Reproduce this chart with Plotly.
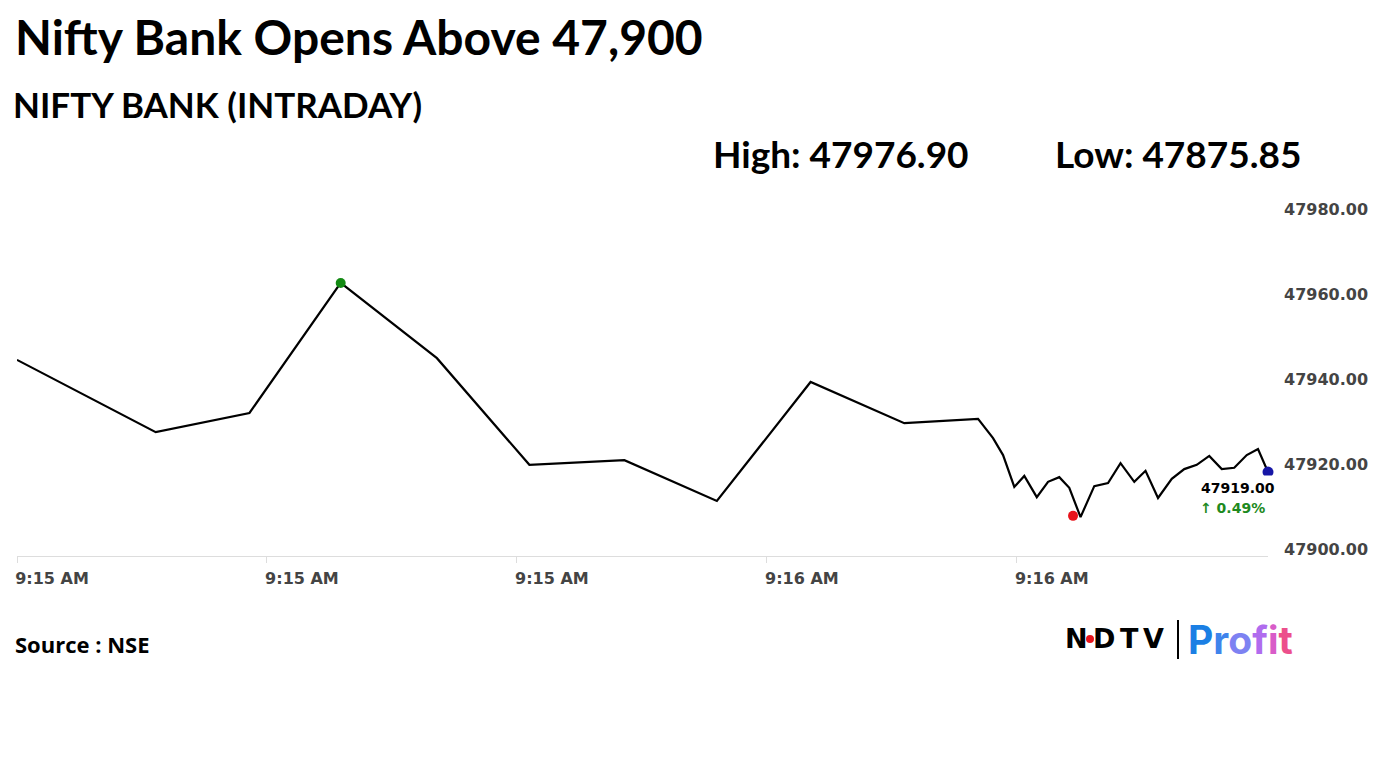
import plotly.graph_objects as go

# ---------------- data (seconds after 9:15:05 AM, price) ----------------
time_s = [0, 11.1, 18.6, 25.9, 33.6, 41.0, 48.6, 56.0, 63.5, 71.0, 76.9, 78.1, 78.9,
          79.8, 80.6, 81.6, 82.5, 83.4, 84.2, 85.1, 86.2, 87.3, 88.3, 89.4, 90.3,
          91.3, 92.4, 93.4, 94.4, 95.4, 96.4, 97.4, 98.4, 99.3, 100.1]
price = [47944.5, 47927.5, 47932.0, 47962.6, 47944.9, 47919.8, 47920.9, 47911.3,
         47939.3, 47929.6, 47930.6, 47926.1, 47922.1, 47914.6, 47917.2, 47912.2,
         47915.8, 47916.9, 47914.4, 47907.5, 47914.8, 47915.5, 47920.2, 47915.8,
         47918.4, 47912.0, 47916.5, 47918.8, 47919.8, 47921.9, 47918.8, 47919.1,
         47922.1, 47923.5, 47918.1]

high_point = (25.9, 47962.6)
low_point = (84.5, 47907.8)
last_point = (100.1, 47918.1)

x_tick_vals = [0, 20, 40, 60, 80]
x_tick_text = ["9:15 AM", "9:15 AM", "9:15 AM", "9:16 AM", "9:16 AM"]
y_tick_vals = [47900, 47920, 47940, 47960, 47980]
y_tick_text = ["47900.00", "47920.00", "47940.00", "47960.00", "47980.00"]

title_text = "Nifty Bank Opens Above 47,900"
subtitle_text = "NIFTY BANK (INTRADAY)"
high_text = "High: 47976.90"
low_text = "Low: 47875.85"
last_text = "47919.00"
change_text = "\u2191 0.49%"
source_text = "Source : NSE"

# ---------------- layout geometry ----------------
W, H = 1382, 777
L, R, T, B = 17, 114, 207, 221
PW, PH = W - L - R, H - T - B


def px(p):
    return (p - L) / PW


def py(p):
    return (H - B - p) / PH


fig = go.Figure()
fig.add_trace(go.Scatter(x=time_s, y=price, mode="lines",
                         line=dict(color="black", width=2.2), hoverinfo="skip",
                         showlegend=False))
fig.add_trace(go.Scatter(x=[high_point[0]], y=[high_point[1]], mode="markers",
                         marker=dict(color="#138a13", size=10), showlegend=False,
                         cliponaxis=False))
fig.add_trace(go.Scatter(x=[low_point[0]], y=[low_point[1]], mode="markers",
                         marker=dict(color="#e8131b", size=10), showlegend=False,
                         cliponaxis=False))
fig.add_trace(go.Scatter(x=[last_point[0]], y=[last_point[1]], mode="markers",
                         marker=dict(color="#1616a6", size=11), showlegend=False,
                         cliponaxis=False))

tick_font = dict(family="DejaVu Sans", size=16, color="#444444", weight="bold")

fig.update_layout(
    width=W, height=H,
    margin=dict(l=L, r=R, t=T, b=B, pad=0),
    paper_bgcolor="white", plot_bgcolor="white",
    xaxis=dict(range=[0, 100.1], tickmode="array", tickvals=x_tick_vals,
               ticktext=x_tick_text, showgrid=False, zeroline=False,
               showline=True, linecolor="#dddddd", linewidth=1,
               ticks="outside", ticklen=6, tickcolor="#dddddd",
               tickfont=tick_font, ticklabelshift=35, ticklabelstandoff=2),
    yaxis=dict(range=[47898.35, 47980.47], side="right", tickmode="array",
               tickvals=y_tick_vals, ticktext=y_tick_text, showgrid=False,
               zeroline=False, showline=False, ticks="", tickfont=tick_font,
               ticklabelstandoff=15),
)

ann = []


def add_text(text, x, y, size, family="Lato", color="black", xanchor="left",
             weight="bold", bg=None, pad=1):
    d = dict(text=text, x=px(x), y=py(y), xref="paper", yref="paper",
             xanchor=xanchor, yanchor="middle", showarrow=False, borderpad=pad,
             font=dict(family=family, size=size, color=color, weight=weight))
    if bg:
        d["bgcolor"] = bg
    ann.append(d)


add_text(title_text, 13, 36, 48)
add_text(subtitle_text, 11, 104, 35)
add_text(high_text, 711, 153, 37)
add_text(low_text, 1053, 153, 37)
add_text(source_text, 13, 644, 22, family="Open Sans")
add_text(last_text, 1196, 488, 14, family="DejaVu Sans", bg="white", pad=4)
add_text(change_text, 1198, 508, 14, family="DejaVu Sans", color="#1e8a1e")

# logo
for ch, cx in zip("NDTV", [1076, 1104, 1129, 1153]):
    add_text(ch, cx, 638, 27, family="DejaVu Sans", xanchor="center", weight=900)
profit_colors = ["#1b7fe4", "#3f84ec", "#7d82f2", "#b06cee", "#d85cc8", "#ec4f8c"]
profit = "".join(f'<span style="color:{c}">{ch}</span>'
                 for ch, c in zip("Profit", profit_colors))
add_text(profit, 1186, 639, 39, family="Inter")

fig.update_layout(annotations=ann)
fig.add_shape(type="line", xref="paper", yref="paper", x0=px(1178), x1=px(1178),
              y0=py(620), y1=py(659), line=dict(color="black", width=2))
fig.add_shape(type="circle", xref="paper", yref="paper", x0=px(1086), x1=px(1094),
              y0=py(643), y1=py(635), fillcolor="#e8131b", line=dict(width=0))

fig.write_html("out.html", config={"displayModeBar": False},
               post_script="document.body.style.margin='0';")
